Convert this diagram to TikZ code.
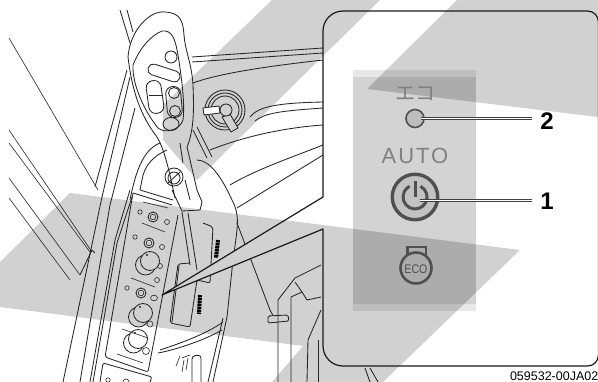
\documentclass[tikz,border=0pt]{standalone}
\usepackage{fontspec}
\usetikzlibrary{shapes.geometric}
\setmainfont{Liberation Sans}
\newfontfamily\jpfont{Noto Sans CJK JP}
\newfontfamily\spacedfont[LetterSpace=9]{Liberation Sans}
\definecolor{bandgray}{HTML}{D1D1D1}
\definecolor{icongray}{HTML}{505050}
\definecolor{labelgray}{HTML}{808080}
\begin{document}
\begin{tikzpicture}[x=1pt, y=-1pt,
        band/.style={fill=bandgray, draw=none},
        art/.style={draw=black!85, line width=0.85pt, line join=round},
        thinart/.style={draw=black!85, line width=0.6pt},
        pill/.style={draw=black!85, line width=0.85pt, inner sep=0pt},
        callout/.style={draw=black!90, line width=1.2pt, line join=round},
        leader/.style={draw=black!75, line width=0.7pt, double=white, double distance=1pt},
        num/.style={font=\bfseries\fontsize{24}{24}\selectfont, inner sep=0pt}]
    \useasboundingbox (0,0) rectangle (598,382);

    % Graue Streifen
    \fill[band] (272,0) -- (380,0) -- (197,180) -- (163,140) -- (163,105) -- cycle;
    \fill[band] (457,0) -- (598,0) -- (598,117) -- (367,89) -- cycle;
    \fill[band] (70,193) -- (520,250) -- (383,382) -- (272,382) -- (303,346) -- (0,307) -- (0,262) -- cycle;

    % Zeichnung links, Lupe bleibt frei
    \begin{scope}[even odd rule]
        \clip (0,0) rectangle (598,382)
            (162,295) -- (323,197) -- (323,11) -- (600,11) -- (600,366) -- (323,366) -- (323,229) -- cycle;

        % Linien im Hintergrund
        \draw[thinart] (9,38) -- (98,190);
        \draw[thinart] (9,130) -- (92,252);
        \draw[thinart] (9,143) -- (90,252);
        \draw[thinart] (9,178) -- (80,275);
        \draw[thinart] (9,198) -- (70,280);
        \draw[art] (120,10) -- (130,43);
        \draw[art] (127,10) -- (133,32);
        \draw[art] (127,70) -- (95,187);
        \draw[art] (130,77) -- (102,197) -- (63,382);
        \draw[art] (135,108) -- (110,205) -- (80,382);
        \draw[art] (130,190) -- (115,240) -- (90,382);
        \draw[art] (132,197) -- (117,243) -- (93,382);
        \draw[art] (92,250) -- (80,275);
        \draw[art] (92,250) -- (95,253);

        % Griff
        \draw[art] (128,57) .. controls (130,30) and (150,10) .. (165,12)
            .. controls (180,13) and (183,20) .. (184,35)
            .. controls (185,50) and (192,65) .. (193,85)
            .. controls (194,110) and (194,130) .. (187,147);
        \draw[art] (128,57) .. controls (132,90) and (140,115) .. (157,137)
            .. controls (165,150) and (170,175) .. (175,198);
        \draw[art] (133,65) .. controls (140,48) and (150,36) .. (162,31)
            .. controls (172,30) and (175,38) .. (178,55)
            .. controls (182,80) and (185,105) .. (183,120)
            .. controls (180,130) and (165,134) .. (158,128)
            .. controls (145,112) and (132,85) .. (133,65) -- cycle;
        \node[pill, circle, minimum size=12pt] (btntop) at (171,57) {};
        \node[pill, rounded corners=5pt, rotate=-18, minimum width=33pt, minimum height=11pt] (slotwide) at (164,73) {};
        \node[pill, rounded corners=7pt, rotate=-82, minimum width=33pt, minimum height=15pt] (rocker) at (155,97) {};
        \draw[art] (149,95) -- (163,95);
        \node[pill, rounded corners=7pt, rotate=-85, minimum width=31pt, minimum height=15pt] (btnframe) at (174,102) {};
        \node[pill, circle, minimum size=11pt] (btnup) at (174,93) {};
        \node[pill, circle, minimum size=11pt] (btndown) at (175,111) {};
        \node[pill, ellipse, minimum width=16pt, minimum height=13pt] (btnwide) at (171,124) {};
        \draw[art] (180,143) -- (183,163);
        \draw[art] (185,180) -- (190,200);
        \draw[art] (187,147) -- (197,190) -- (202,202) -- (200,210) -- (182,211) -- (172,190);
        \draw[art] (188,213) -- (197,270);
        \draw[art] (182,212) -- (190,265);

        % Zuendschloss
        \foreach \r in {20,17,14} {\draw[art] (225,110) circle (\r);}
        \draw[art, fill=white] (203,108) -- (219,106) -- (220,113) -- (204,115) -- cycle;
        \draw[art, fill=bandgray] (222,117) -- (230,114) -- (238,128) -- (231,132) -- cycle;
        \node[pill, circle, minimum size=12pt, fill=bandgray] (keyhead) at (226,110) {};

        % Linien rechts
        \draw[art] (192,57) -- (323,48);
        \draw[art] (192,62) -- (323,53);
        \draw[art] (193,83) .. controls (220,73) and (270,66) .. (323,60);
        \draw[art] (250,117) .. controls (258,107) and (275,103) .. (323,102);
        \draw[art] (255,121) .. controls (265,113) and (280,111) .. (323,108);
        \draw[art] (210,150) .. controls (240,138) and (280,128) .. (323,125);
        \draw[art] (212,157) -- (197,127);
        \draw[art] (207,158) -- (193,130);
        \draw[art] (230,185) .. controls (255,170) and (290,158) .. (323,145);
        \draw[art] (237,208) -- (323,155);
        \draw[art] (197,160) .. controls (210,160) and (222,178) .. (232,200)
            .. controls (240,215) and (238,225) .. (233,260) -- (227,317) -- (213,382);
        \draw[art] (223,318) -- (208,382);
        \draw[art] (160,350) .. controls (175,345) and (205,335) .. (223,322);
        \draw[art] (158,353) .. controls (175,350) and (205,340) .. (222,330);

        % Kleiner Drehknopf
        \node[pill, circle, minimum size=18pt] (dial) at (174,177) {};
        \node[pill, circle, minimum size=12pt] (dialin) at (174,178) {};
        \draw[art] (168,183) -- (180,172);
        \draw[art] (130,200) .. controls (135,175) and (142,150) .. (160,143);
        \draw[art] (142,180) .. controls (144,165) and (155,155) .. (167,150);
        \draw[art] (142,180) -- (140,190) -- (173,200);

        % Schalterleiste
        \draw[art, rounded corners=2pt] (133,193) -- (105,357) -- (148,372) -- (178,215);
        \draw[art] (133,193) -- (172,205);
        \draw[art, rounded corners=2pt] (100,382) -- (103,363) -- (152,377) -- (150,382);
        \draw[thinart] (143,202) -- (168,208);
        \draw[thinart] (142,223) -- (165,232);
        \draw[thinart] (131,278) -- (155,287);
        \draw[thinart] (117,354) -- (143,363);
        \foreach \x/\y in {140/212, 135/237, 127/288} {\draw[thinart] (\x,\y) circle (2.2);}
        \foreach \x/\y in {153/217, 149/243, 141/293} {
            \draw[art] (\x,\y) circle (5);
            \draw[thinart] (\x,\y) circle (2.8);
        }
        \draw[thinart] (167,222) circle (2.5);
        \draw[thinart] (162,247) circle (2.5);
        \draw[thinart] (154,298) ellipse (3.5 and 2.8);
        \draw[thinart] (150,324) circle (3);
        \draw[thinart] (146,351) circle (3.5);
        \draw[thinart] (160,266) circle (2.5);
        \draw[thinart] (157,280) circle (2.5);

        % Drehregler
        \foreach \x/\y/\c in {148/263/bandgray, 141/315/bandgray, 136/341/white} {
            \draw[art, fill=\c] (\x-2.5,\y+2) circle (10);
            \draw[art, fill=\c] (\x+2,\y-2) circle (9.5);
            \fill[black!85] (\x-1,\y-8) circle (1.2);
        }
        \draw[thinart] (122,329) -- (148,338);

        % Hebelfuehrung
        \draw[art, rounded corners=2pt] (190,263) -- (178,264) -- (170,323) -- (190,327) -- (197,280) -- (210,283) -- (213,227) -- (203,223);
        \draw[art] (179,266) -- (172,322);
        \draw[black, line width=4pt, dash pattern=on 2.4pt off 0.6pt] (218,240) -- (216,258);
        \draw[black, line width=4pt, dash pattern=on 2.4pt off 0.6pt] (200,295) -- (199,314);

        % Rechter Holm
        \draw[art] (237,223) -- (270,310) -- (277,323);
        \draw[art, fill=bandgray, rounded corners=1.5pt] (268,316) -- (288,315) -- (289,321) -- (268,323) -- cycle;
        \draw[art] (278,382) -- (278,300) -- (295,278) -- (321,265);
        \draw[art] (291,382) -- (291,297) -- (302,292) -- (295,282);
        \draw[art] (302,292) -- (307,300) -- (321,297);
        \draw[art] (307,382) -- (308,340) -- (321,310);
        \draw[art] (318,340) -- (318,382);
        \draw[art] (365,368) -- (370,382);
        \draw[art] (370,368) -- (378,382);

        % Symbole unten
        \draw[art, rounded corners=3pt] (192,382) -- (192,356) -- (201,355) -- (201,382);
        \draw[thinart] (182,358) -- (190,355) (176,366) -- (180,356) (182,372) -- (184,360) (186,370) -- (188,358);
        \draw[thinart] (108,380) circle (2.2);
        \draw[thinart] (126,382) circle (3);
    \end{scope}

    % Lupe
    \draw[callout] (323,197) [rounded corners=20pt] -- (323,11) [rounded corners=11pt] -- (598.5,11) -- (598.5,366) [rounded corners=20pt] -- (323,366) [sharp corners] -- (323,229) -- (162,295) -- cycle;

    % Bedienfeld
    \fill[black, fill opacity=0.09] (353,70) rectangle (476,311);
    \fill[black, fill opacity=0.09] (353,77) rectangle (476,304);

    \node[font=\jpfont\fontsize{20}{20}\selectfont, text=labelgray, inner sep=0pt] (ecokana) at (415,94) {エコ};
    \node[draw=icongray, fill=black, fill opacity=0.1, draw opacity=1, circle, line width=1.6pt, minimum size=18pt, inner sep=0pt] (ecolamp) at (415,118.5) {};
    \node[font=\spacedfont\fontsize{22}{22}\selectfont, text=labelgray, inner sep=0pt] (autotext) at (415,156) {AUTO};

    % Taster
    \node[draw=icongray, fill=black, fill opacity=0.08, draw opacity=1, circle, line width=3.4pt, minimum size=45.5pt, inner sep=0pt] (powerbtn) at (415,197) {};
    \draw[icongray, line width=3pt] (powerbtn.center) ++(5.5,-10.7) arc[start angle=-63, end angle=243, radius=12];
    \draw[icongray, line width=3pt] (415,181) -- (415,197);

    % ECO Symbol
    \node[draw=icongray, circle, line width=2.6pt, minimum size=31pt, inner sep=0pt] (ecosym) at (416,268) {};
    \node[font=\fontsize{12.5}{12.5}\selectfont, text=icongray, inner sep=0pt, xscale=0.85, transform shape] (ecotext) at (416,269) {ECO};
    \draw[icongray, line width=2.6pt, line join=miter] (407.5,256) -- (407.5,247) -- (426,247) -- (426,256);

    % Nummern
    \node[num] (numtwo) at (547,121) {2};
    \node[num] (numone) at (547,201) {1};
    \coordinate (endtwo) at (532,118.5);
    \coordinate (endone) at (532,200.5);
    \draw[leader] (ecolamp.center) ++(6,0) -- (endtwo);
    \draw[leader] (powerbtn.center) ++(5,3.5) -- (endone);

    \node[font=\fontsize{12.5}{12.5}\selectfont, anchor=base east, inner sep=0pt] (partno) at (598.5,380.5) {059532-00JA02};
\end{tikzpicture}
\end{document}
